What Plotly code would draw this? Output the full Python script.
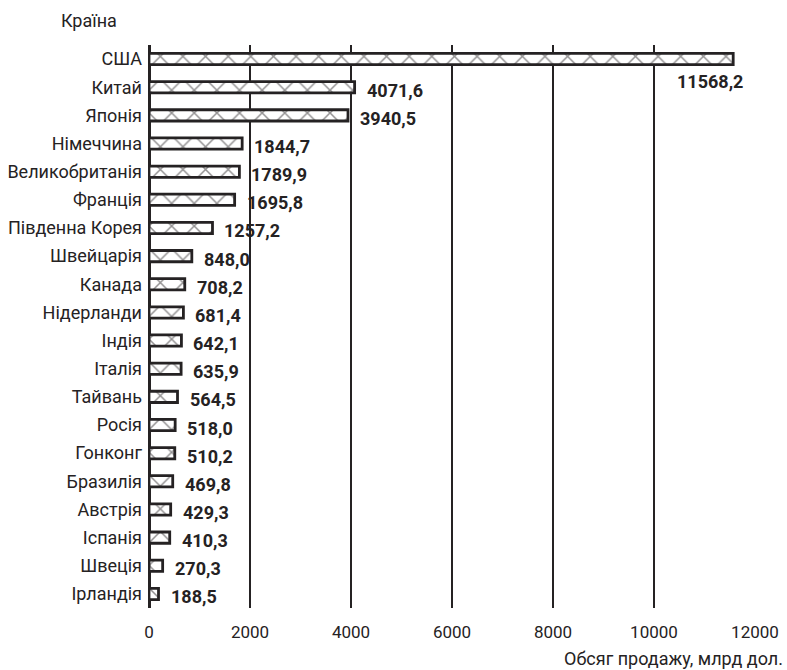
import plotly.graph_objects as go

# Sales volume by country, billion dollars (top to bottom)
countries = [
    "США", "Китай", "Японія", "Німеччина", "Великобританія", "Франція",
    "Південна Корея", "Швейцарія", "Канада", "Нідерланди", "Індія", "Італія",
    "Тайвань", "Росія", "Гонконг", "Бразилія", "Австрія", "Іспанія",
    "Швеція", "Ірландія",
]
sales = [
    11568.2, 4071.6, 3940.5, 1844.7, 1789.9, 1695.8, 1257.2, 848.0, 708.2,
    681.4, 642.1, 635.9, 564.5, 518.0, 510.2, 469.8, 429.3, 410.3, 270.3,
    188.5,
]
x_ticks = [0, 2000, 4000, 6000, 8000, 10000, 12000]

FONT = "Roboto, Liberation Sans, sans-serif"
INK = "#252223"


def fmt(v):
    return f"{v:.1f}".replace(".", ",")


fig = go.Figure(
    go.Bar(
        x=sales,
        y=countries,
        orientation="h",
        marker=dict(
            color="white",
            line=dict(color=INK, width=2.8),
            pattern=dict(shape="x", fgcolor=INK, bgcolor="white",
                         size=16, solidity=0.18),
        ),
        width=0.4,
        hoverinfo="x+y",
    )
)

annotations = []
# value labels to the right of each bar; the longest bar gets its label below
for name, v in zip(countries, sales):
    if v == max(sales):
        annotations.append(dict(x=v, y=name, text=f"<b>{fmt(v)}</b>", showarrow=False,
                                xanchor="right", yanchor="middle", xshift=12, yshift=-22))
    else:
        annotations.append(dict(x=v, y=name, text=f"<b>{fmt(v)}</b>", showarrow=False,
                                xanchor="left", yanchor="middle", xshift=10, yshift=-3))

annotations += [
    dict(text="Країна", xref="paper", yref="paper", x=0, y=1,
         xshift=-60, yshift=25, xanchor="center", yanchor="middle", showarrow=False),
    dict(text="Обсяг продажу, млрд дол.", xref="paper", yref="paper",
         x=1, y=0, xshift=30, yshift=-50, xanchor="right", yanchor="middle",
         showarrow=False),
]

fig.update_layout(
    width=787,
    height=670,
    margin=dict(l=149, r=32, t=45, b=62, autoexpand=False),
    paper_bgcolor="white",
    plot_bgcolor="white",
    font=dict(family=FONT, size=18, color=INK),
    showlegend=False,
    bargap=0.6,
    annotations=annotations,
)
fig.update_annotations(font=dict(family=FONT, size=18, color=INK))

fig.update_xaxes(
    range=[0, 12000],
    tickvals=x_ticks,
    ticktext=[str(t) for t in x_ticks],
    showgrid=True,
    gridcolor=INK,
    gridwidth=2,
    zeroline=True,
    zerolinecolor=INK,
    zerolinewidth=2.5,
    showline=False,
    ticks="",
    ticklabelstandoff=12,
    automargin=False,
    tickfont=dict(family=FONT, size=17, color=INK),
)
fig.update_yaxes(
    range=[len(countries) - 0.5, -0.5],
    showgrid=False,
    showline=False,
    ticks="",
    ticklabelstandoff=6,
    automargin=False,
    tickfont=dict(family=FONT, size=18, color=INK),
)

fig.write_html("out.html")
